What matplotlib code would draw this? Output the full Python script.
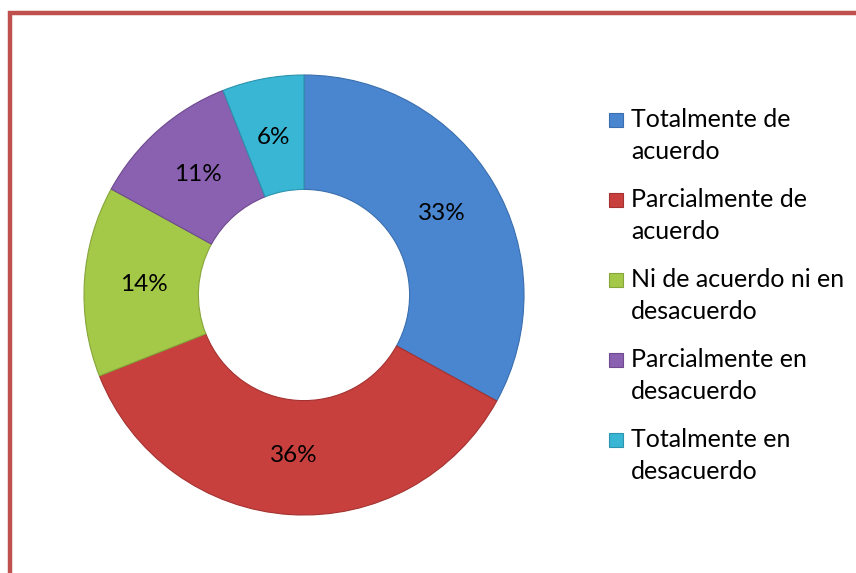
import matplotlib.pyplot as plt
from matplotlib.patches import Rectangle

# datos de la encuesta
categorias = ["Totalmente de\nacuerdo", "Parcialmente de\nacuerdo",
              "Ni de acuerdo ni en\ndesacuerdo", "Parcialmente en\ndesacuerdo",
              "Totalmente en\ndesacuerdo"]
porcentajes = [33, 36, 14, 11, 6]
colores = ["#4A86D0", "#C8403E", "#A4C848", "#8A60B0", "#38B6D4"]
bordes = ["#3A6EAE", "#A43230", "#86A63A", "#6E4A90", "#2C94AE"]

plt.rcParams['font.family'] = ['Lato', 'DejaVu Sans']

W, H = 856, 573
fig = plt.figure(figsize=(W / 100, H / 100), dpi=100)

# marco rojo
fig.patches.append(Rectangle((10 / W, -0.05), 1.2, 1 - 12.5 / H + 0.05,
                             transform=fig.transFigure, fill=False,
                             edgecolor="#C0504D", linewidth=3.2))

cx, cy, r = 304, 295, 220
ax = fig.add_axes([(cx - r) / W, (H - cy - r) / H, 2 * r / W, 2 * r / H])
wedges, _, autotexts = ax.pie(porcentajes, colors=colores, startangle=90,
                              counterclock=False, radius=1,
                              autopct=lambda p: f"{p:.0f}%", pctdistance=0.73,
                              wedgeprops=dict(width=0.52, linewidth=0.8),
                              textprops=dict(fontsize=17.5, color="black"))
for w, b in zip(wedges, bordes):
    w.set_edgecolor(b)
ax.set_xlim(-1, 1)
ax.set_ylim(-1, 1)
ax.set_aspect("equal")
ax.axis("off")

# leyenda a mano: cuadro alineado con la primera linea de cada entrada
y0, paso, lado = 127, 80, 14
for i, (lab, c, b) in enumerate(zip(categorias, colores, bordes)):
    base = y0 + paso * i
    fig.patches.append(Rectangle((609 / W, 1 - base / H), lado / W, lado / H,
                                 transform=fig.transFigure,
                                 facecolor=c, edgecolor=b, linewidth=0.8))
    primera, segunda = lab.split("\n")
    fig.text(631 / W, 1 - base / H, primera, fontsize=18, va="baseline")
    fig.text(631 / W, 1 - (base + 32) / H, segunda, fontsize=18, va="baseline")

fig.savefig("out.png", dpi=100)
